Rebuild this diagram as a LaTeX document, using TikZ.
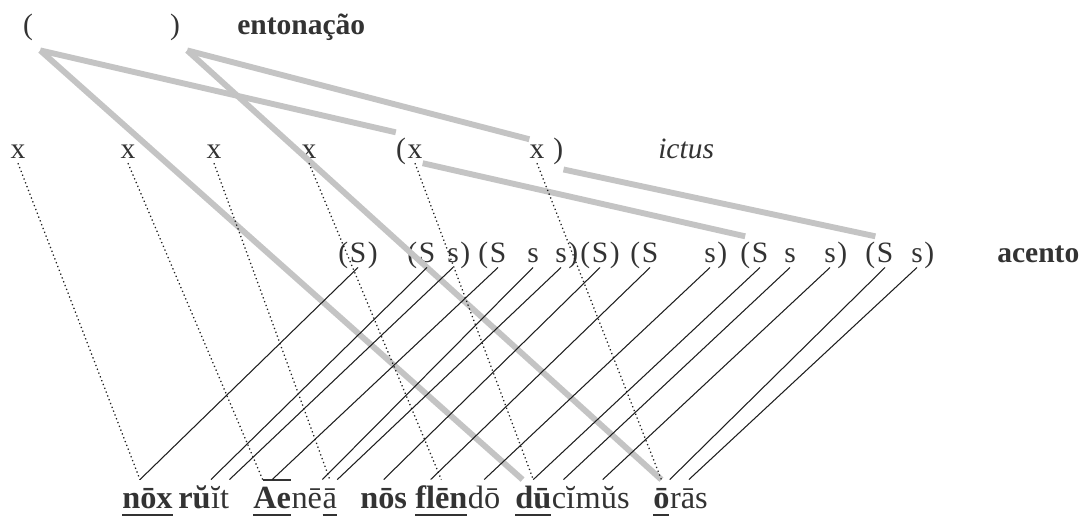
\documentclass[tikz,border=0pt]{standalone}
\usepackage{fontspec}
\setmainfont{Liberation Serif}
\usetikzlibrary{positioning}
\definecolor{Ink}{HTML}{333333}
\definecolor{LinkInk}{HTML}{1E1E1E}
\definecolor{TierGray}{HTML}{C4C4C4}
\newsavebox{\sylbox}
\newsavebox{\barbox}
% ictus syllables are underlined, the long diphthong gets a bar on top
\newcommand{\ictusline}[1]{\sbox{\sylbox}{#1}\rlap{\rule[-6pt]{\wd\sylbox}{1.5pt}}\usebox{\sylbox}}
\newcommand{\longbar}[1]{\sbox{\barbox}{#1}\rlap{\hspace{0.25\wd\barbox}\rule[19.5pt]{0.75\wd\barbox}{1.4pt}}\usebox{\barbox}}
\tikzset{
  tier label/.style={font=\bfseries\fontsize{21}{24}\selectfont, text=Ink,
    anchor=base west, inner sep=0pt},
  grid mark/.style={font=\fontsize{21}{24}\selectfont, text=Ink,
    anchor=base, inner xsep=0pt, inner ysep=3.5pt},
  phrase bracket/.style={grid mark, inner xsep=5pt, inner ysep=7pt},
  syllable/.style={font=\fontsize{23}{26}\selectfont, text=Ink,
    anchor=base west, inner sep=0pt, text height=20pt, text depth=6pt},
  tier link/.style={draw=TierGray, line width=4.2pt},
  accent link/.style={draw=LinkInk, line width=0.75pt},
  ictus link/.style={draw=LinkInk, line width=0.9pt, dotted},
}
\newcommand{\sylgap}{0pt}
\newcommand{\markgap}{0.8pt}

\begin{document}
\begin{tikzpicture}[x=0.025cm, y=-0.025cm]
  \useasboundingbox (0,0) rectangle (1085,520);

  % intonation tier
  \node[phrase bracket] (openTone) at (28,34) {(};
  \node[phrase bracket] (closeTone) at (175,34) {)};
  \node[tier label] (toneLabel) at (237,34) {entonação};

  % ictus tier
  \node[grid mark] (ictA) at (18,158) {x};
  \node[grid mark] (ictB) at (128,158) {x};
  \node[grid mark] (ictC) at (214,158) {x};
  \node[grid mark] (ictD) at (309,158) {x};
  \node[grid mark] (ictE) at (415,158) {x};
  \node[grid mark, base left=\markgap of ictE] (openIct) {(};
  \node[grid mark] (ictF) at (537,158) {x};
  \node[grid mark, base right=6pt of ictF] (closeIct) {)};
  \node[tier label, font=\itshape\fontsize{21}{24}\selectfont] (ictusLabel) at (658,158) {ictus};

  % accent tier
  \node[grid mark] (sA) at (358,262) {S};
  \node[grid mark] (sB) at (427,262) {S};
  \node[grid mark] (sBa) at (453,262) {s};
  \node[grid mark] (sC) at (498,262) {S};
  \node[grid mark] (sCa) at (533,262) {s};
  \node[grid mark] (sCb) at (561,262) {s};
  \node[grid mark] (sD) at (600,262) {S};
  \node[grid mark] (sE) at (650,262) {S};
  \node[grid mark] (sEa) at (710,262) {s};
  \node[grid mark] (sF) at (760,262) {S};
  \node[grid mark] (sFa) at (790,262) {s};
  \node[grid mark] (sFb) at (830,262) {s};
  \node[grid mark] (sG) at (885,262) {S};
  \node[grid mark] (sGa) at (917,262) {s};
  \node[grid mark, base left=\markgap of sA] (openA) {(};
  \node[grid mark, base right=\markgap of sA] (closeA) {)};
  \node[grid mark, base left=\markgap of sB] (openB) {(};
  \node[grid mark, base right=\markgap of sBa] (closeB) {)};
  \node[grid mark, base left=\markgap of sC] (openC) {(};
  \node[grid mark, base right=\markgap of sCb] (closeC) {)};
  \node[grid mark, base left=\markgap of sD] (openD) {(};
  \node[grid mark, base right=\markgap of sD] (closeD) {)};
  \node[grid mark, base left=\markgap of sE] (openE) {(};
  \node[grid mark, base right=\markgap of sEa] (closeE) {)};
  \node[grid mark, base left=\markgap of sF] (openF) {(};
  \node[grid mark, base right=\markgap of sFb] (closeF) {)};
  \node[grid mark, base left=\markgap of sG] (openG) {(};
  \node[grid mark, base right=\markgap of sGa] (closeG) {)};
  \node[tier label] (accentLabel) at (997,262) {acento};

  % the verse, one node per syllable
  \node[syllable] (nox) at (122,508) {\ictusline{\textbf{nōx}}};
  \node[syllable] (ru) at (178,508) {\textbf{rŭ}};
  \node[syllable, base right=\sylgap of ru] (it) {ĭt};
  \node[syllable] (ae) at (253,508) {\ictusline{\longbar{\textbf{Ae}}}};
  \node[syllable, base right=\sylgap of ae] (ne) {nē};
  \node[syllable, base right=\sylgap of ne] (aLong) {\ictusline{ā}};
  \node[syllable] (nos) at (360,508) {\textbf{nōs}};
  \node[syllable] (flen) at (415,508) {\ictusline{\textbf{flēn}}};
  \node[syllable, base right=\sylgap of flen] (dos) {dō};
  \node[syllable] (du) at (515,508) {\ictusline{\textbf{dū}}};
  \node[syllable, base right=\sylgap of du] (ci) {cĭ};
  \node[syllable, base right=\sylgap of ci] (mus) {mŭs};
  \node[syllable] (ora) at (653,508) {\ictusline{\textbf{ō}}};
  \node[syllable, base right=\sylgap of ora] (ras) {rās};

  \draw[tier link] (openTone.south east) -- (openIct.north west);
  \draw[tier link] (closeTone.south east) -- (ictF.north west);
  \draw[tier link] (ictE.south east) -- (openF.north);
  \draw[tier link] (closeIct.south east) -- (openG.north east);
  \draw[tier link] (openTone.south east) -- (du.120);
  \draw[tier link] (closeTone.south east) -- (ora.north);

  \draw[ictus link] (ictA.south) -- (nox.112);
  \draw[ictus link] (ictB.south) -- (ae.117);
  \draw[ictus link] (ictC.south) -- (aLong.north);
  \draw[ictus link] (ictD.south) -- (flen.north);
  \draw[ictus link] (ictE.south) -- (du.north);
  \draw[ictus link] (ictF.south) -- (ora.north);

  \draw[accent link] (sA.south) -- (nox.112);
  \draw[accent link] (sB.south) -- (ru.north east);
  \draw[accent link] (sBa.south) -- (it.north east);
  \draw[accent link] (sC.south) -- (ae.north);
  \draw[accent link] (sCa.south) -- (ne.north east);
  \draw[accent link] (sCb.south) -- (aLong.north east);
  \draw[accent link] (sD.south) -- (nos.north);
  \draw[accent link] (sE.south) -- (flen.120);
  \draw[accent link] (sEa.south) -- (dos.north);
  \draw[accent link] (sF.south) -- (du.north);
  \draw[accent link] (sFa.south) -- (ci.north);
  \draw[accent link] (sFb.south) -- (mus.north);
  \draw[accent link] (sG.south) -- (ora.north east);
  \draw[accent link] (sGa.south) -- (ras.north);
\end{tikzpicture}
\end{document}
